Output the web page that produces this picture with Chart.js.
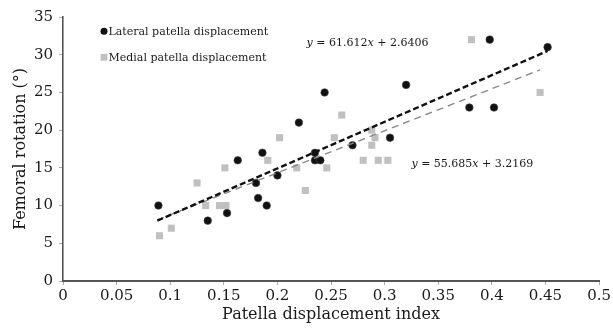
<!DOCTYPE html>
<html><head><meta charset="utf-8">
<script src="https://cdn.jsdelivr.net/npm/chart.js@4.4.1/dist/chart.umd.min.js"></script>
<style>html,body{margin:0;padding:0;background:#fff}#wrap{width:613px;height:331px}</style>
</head><body><div id="wrap"><canvas id="c" width="613" height="331"></canvas></div>
<script>
// ---- data ----
const lateralX = [0.089,0.135,0.153,0.163,0.180,0.182,0.186,0.190,0.200,0.220,0.235,0.235,0.240,0.244,0.270,0.305,0.320,0.379,0.398,0.402,0.452];
const lateralY = [10,8,9,16,13,11,17,10,14,21,17,16,16,25,18,19,26,23,32,23,31];
const medialX = [0.090,0.101,0.125,0.133,0.146,0.152,0.151,0.191,0.202,0.218,0.226,0.236,0.246,0.253,0.260,0.280,0.288,0.288,0.291,0.294,0.303,0.381,0.445];
const medialY = [6,7,13,10,10,10,15,16,19,15,12,16,15,19,22,16,18,20,19,16,16,32,25];
const lateralTrendX = [0.088,0.452];
const lateralTrendY = [8.0,30.5];
const medialTrendX = [0.088,0.445];
const medialTrendY = [8.1,28.0];
const seriesNames = ['Lateral patella displacement','Medial patella displacement'];
const lateralEquation = ['61.612','2.6406'];
const medialEquation = ['55.685','3.2169'];
const xTickValues = [0,0.05,0.1,0.15,0.2,0.25,0.3,0.35,0.4,0.45,0.5];
const xTickLabels = ['0','0.05','0.1','0.15','0.2','0.25','0.3','0.35','0.4','0.45','0.5'];
const yTickValues = [0,5,10,15,20,25,30,35];
const yTickLabels = ['0','5','10','15','20','25','30','35'];
const xTitle = 'Patella displacement index';
const yTitle = 'Femoral rotation (°)';

const pts = (xs, ys) => xs.map((x, i) => ({x, y: ys[i]}));
const SERIF = 'DejaVu Serif';
const TXT = '#1a1a1a';

const overlay = {
  id: 'overlay',
  afterDraw(chart) {
    const ctx = chart.ctx, xs = chart.scales.x, ys = chart.scales.y, ca = chart.chartArea;
    ctx.save();
    // legend
    const lx = ca.left + 41, ly1 = ca.top + 14.3, ly2 = ca.top + 40.3;
    ctx.fillStyle = '#111';
    ctx.beginPath(); ctx.arc(lx, ly1, 3.5, 0, Math.PI * 2); ctx.fill();
    ctx.fillStyle = '#c0c0c0';
    ctx.fillRect(lx - 3.4, ly2 - 3.4, 6.8, 6.8);
    ctx.fillStyle = TXT;
    ctx.font = '11px "' + SERIF + '"';
    ctx.textBaseline = 'middle';
    ctx.textAlign = 'left';
    ctx.fillText(seriesNames[0], lx + 4.5, ly1 + 0.5);
    ctx.fillText(seriesNames[1], lx + 4.5, ly2 + 0.5);
    // equations
    const drawEq = (eq, xv, yv) => {
      let x = xs.getPixelForValue(xv);
      const y = ys.getPixelForValue(yv);
      ctx.textBaseline = 'alphabetic';
      const parts = [['y', true], [' = ' + eq[0], false], ['x', true], [' + ' + eq[1], false]];
      for (const [t, it] of parts) {
        ctx.font = (it ? 'italic ' : '') + '11px "' + SERIF + '"';
        ctx.fillText(t, x, y);
        x += ctx.measureText(t).width;
      }
    };
    drawEq(lateralEquation, 0.2272, 31.09);
    drawEq(medialEquation, 0.325, 15.11);
    ctx.restore();
  }
};

new Chart(document.getElementById('c'), {
  type: 'scatter',
  data: {
    datasets: [
      { type: 'line', label: 'lat trend', data: pts(lateralTrendX, lateralTrendY), borderColor: '#111', borderWidth: 2.4, borderDash: [6, 3], pointRadius: 0, fill: false, order: 0 },
      { type: 'line', label: 'med trend', data: pts(medialTrendX, medialTrendY), borderColor: '#8a8a8a', borderWidth: 1.4, borderDash: [7, 5], pointRadius: 0, fill: false, order: 1 },
      { label: seriesNames[0], data: pts(lateralX, lateralY), pointStyle: 'circle', pointRadius: 3.8, backgroundColor: '#111', borderColor: '#444', borderWidth: 0.6, order: 2 },
      { label: seriesNames[1], data: pts(medialX, medialY), pointStyle: 'rect', pointRadius: 5, backgroundColor: '#c0c0c0', borderWidth: 0, order: 3 }
    ]
  },
  options: {
    responsive: false,
    animation: false,
    devicePixelRatio: 1,
    events: [],
    layout: { padding: { top: 17, right: 13, left: 0, bottom: 0 } },
    plugins: { legend: { display: false }, tooltip: { enabled: false } },
    scales: {
      x: {
        type: 'linear', min: 0, max: 0.5,
        afterBuildTicks: s => { s.ticks = xTickValues.map(v => ({ value: v })); },
        afterFit: s => { s.height = 50; },
        ticks: { callback: (v, i) => xTickLabels[i], font: { family: SERIF, size: 15 }, color: TXT, padding: 2, maxRotation: 0, autoSkip: false },
        grid: { drawOnChartArea: false, drawTicks: true, tickLength: 4, tickColor: '#aaa' },
        border: { color: '#555', width: 2 },
        title: { display: true, text: xTitle, font: { family: SERIF, size: 16 }, color: TXT, padding: { top: 3, bottom: 7 } }
      },
      y: {
        type: 'linear', min: 0, max: 35,
        afterBuildTicks: s => { s.ticks = yTickValues.map(v => ({ value: v })); },
        afterFit: s => { s.width = 63; },
        ticks: { callback: (v, i) => yTickLabels[i], font: { family: SERIF, size: 15 }, color: TXT, padding: 6 },
        grid: { drawOnChartArea: false, drawTicks: true, tickLength: 4, tickColor: '#aaa' },
        border: { color: '#555', width: 1.6 },
        title: { display: true, text: yTitle, font: { family: SERIF, size: 16 }, color: TXT, padding: { top: 11, bottom: 0 } }
      }
    }
  },
  plugins: [overlay]
});
</script>
</body></html>
